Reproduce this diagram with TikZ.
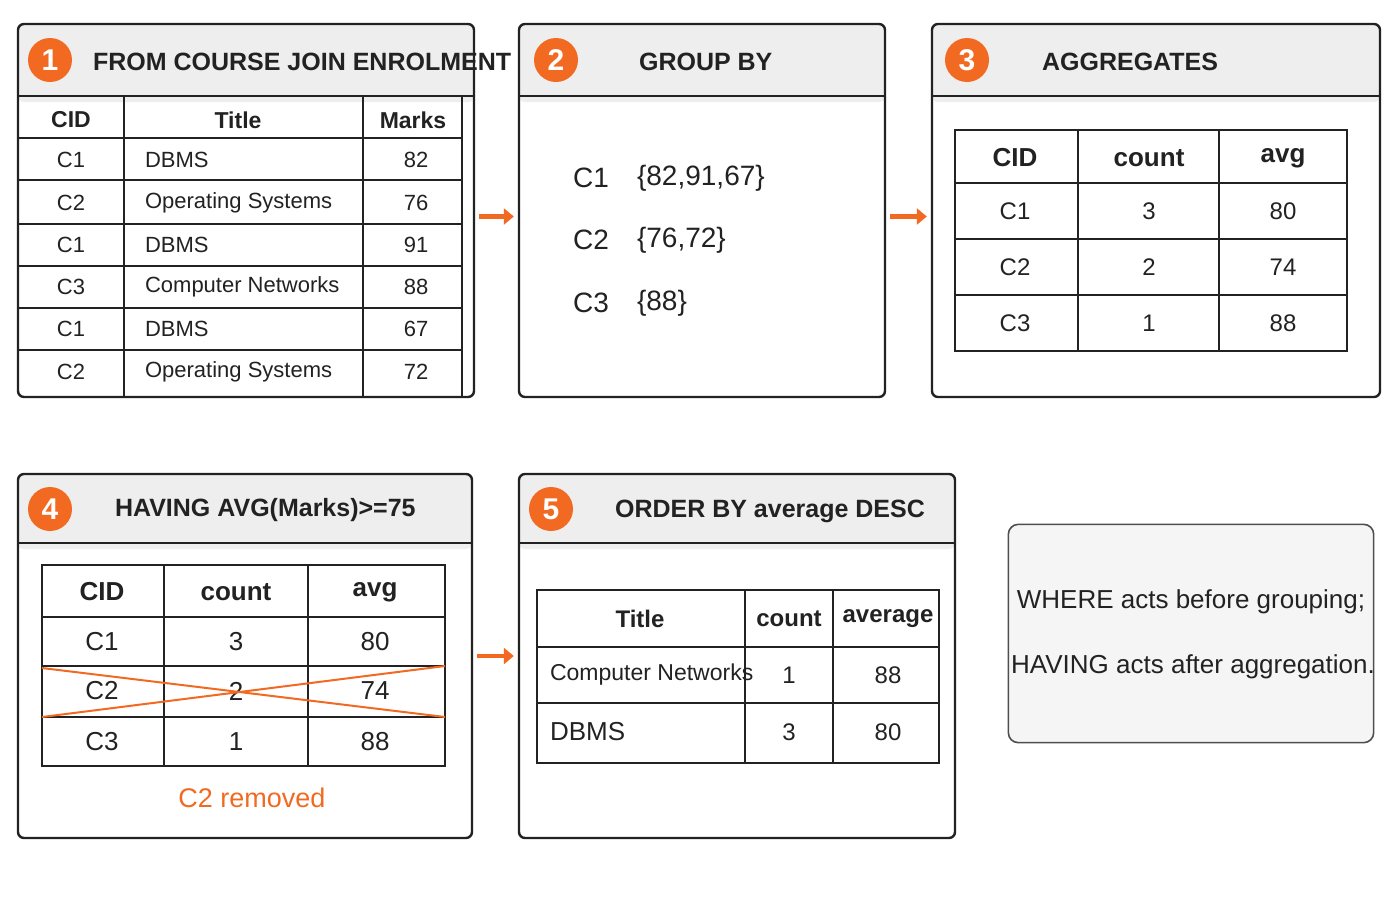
\documentclass[tikz,border=0pt]{standalone}
\usepackage{fontspec}
\setmainfont{Liberation Sans}
\usetikzlibrary{fit,arrows.meta}
\definecolor{org}{HTML}{F26A21}
\definecolor{hdr}{HTML}{EEEEEE}
\definecolor{ink}{HTML}{222222}
\tikzset{
 panel/.style={draw=ink,line width=1.2pt,rounded corners=3pt,inner sep=0pt},
 badge/.style={circle,fill=org,text=white,font=\bfseries\fontsize{15}{15}\selectfont,minimum size=22pt,inner sep=0pt},
 ttl/.style={font=\bfseries\fontsize{12.5}{14}\selectfont,text=ink,anchor=west},
 cell/.style={font=\fontsize{11}{13}\selectfont,text=ink},
 hcell/.style={font=\bfseries\fontsize{11.5}{13}\selectfont,text=ink},
 grid/.style={draw=ink,line width=0.8pt},
 arr/.style={draw=org,line width=2.2pt,-{Triangle[length=5pt,width=8pt]},shorten <=2pt,shorten >=2pt}
}
\newcommand{\header}[4]{% x1 y1 x2 ybottom
 \fill[hdr,rounded corners=3pt] (#1,#2) rectangle (#3,#4+6);
 \fill[hdr] (#1+1,#4-6) rectangle (#3-1,#4);
 \draw[ink,line width=1pt] (#1,#4) -- (#3,#4);}
\begin{document}
\begin{tikzpicture}[x=0.5pt,y=-0.5pt]
\useasboundingbox (0,0) rectangle (1400,900);
\fill[white] (0,0) rectangle (1400,900);
% ---------- panel 1
\header{18}{24}{474}{96}
\node[panel,fit={(18,24)(474,397)}] (p1) {};
\node[badge] (b1) at (50,60) {1};
\node[ttl] (t1) at (86,62) {FROM COURSE JOIN ENROLMENT};
\draw[grid] (124,96)--(124,397) (363,96)--(363,397) (462,96)--(462,397);
\foreach \y in {138,180,224,266,308,350} \draw[grid] (18,\y)--(462,\y);
\node[hcell] (h11) at (71,120) {CID};
\node[hcell] (h12) at (238,120) {Title};
\node[hcell] (h13) at (413,120) {Marks};
\foreach \c/\t/\m/\y [count=\i] in {C1/DBMS/82/160,C2/Operating Systems/76/203,C1/DBMS/91/245,C3/Computer Networks/88/287,C1/DBMS/67/329,C2/Operating Systems/72/372}{
 \node[cell] (r1a\i) at (71,\y) {\c};
 \node[cell,anchor=west] (r1b\i) at (138,\y) {\t};
 \node[cell] (r1c\i) at (416,\y) {\m};}
% ---------- panel 2
\header{519}{24}{885}{96}
\node[panel,fit={(519,24)(885,397)}] (p2) {};
\node[badge] (b2) at (556,60) {2};
\node[ttl] (t2) at (632,62) {GROUP BY};
\foreach \c/\s/\y [count=\i] in {C1/{\{82,91,67\}}/178,C2/{\{76,72\}}/240,C3/{\{88\}}/303}{
 \node[cell,font=\fontsize{14}{16}\selectfont] (g\i) at (591,\y) {\c};
 \node[cell,font=\fontsize{14}{16}\selectfont,anchor=west] (s\i) at (630,\y) {\s};}
% ---------- panel 3
\header{932}{24}{1380}{96}
\node[panel,fit={(932,24)(1380,397)}] (p3) {};
\node[badge] (b3) at (967,60) {3};
\node[ttl] (t3) at (1035,62) {AGGREGATES};
\draw[grid] (955,130) rectangle (1347,351);
\draw[grid] (1078,130)--(1078,351) (1219,130)--(1219,351);
\foreach \y in {183,239,295} \draw[grid] (955,\y)--(1347,\y);
\node[hcell,font=\bfseries\fontsize{13}{15}\selectfont] (h31) at (1015,158) {CID};
\node[hcell,font=\bfseries\fontsize{13}{15}\selectfont] (h32) at (1149,158) {count};
\node[hcell,font=\bfseries\fontsize{13}{15}\selectfont] (h33) at (1283,158) {avg};
\foreach \c/\n/\a/\y [count=\i] in {C1/3/80/211,C2/2/74/267,C3/1/88/323}{
 \node[cell,font=\fontsize{12}{14}\selectfont] (r3a\i) at (1015,\y) {\c};
 \node[cell,font=\fontsize{12}{14}\selectfont] (r3b\i) at (1149,\y) {\n};
 \node[cell,font=\fontsize{12}{14}\selectfont] (r3c\i) at (1283,\y) {\a};}
% ---------- panel 4
\header{18}{474}{472}{543}
\node[panel,fit={(18,474)(472,838)}] (p4) {};
\node[badge] (b4) at (50,509) {4};
\node[ttl] (t4) at (108,510) {HAVING AVG(Marks)>=75};
\draw[grid] (42,565) rectangle (445,766);
\draw[grid] (164,565)--(164,766) (308,565)--(308,766);
\foreach \y in {617,666,717} \draw[grid] (42,\y)--(445,\y);
\node[hcell,font=\bfseries\fontsize{13}{15}\selectfont] (h41) at (102,592) {CID};
\node[hcell,font=\bfseries\fontsize{13}{15}\selectfont] (h42) at (236,592) {count};
\node[hcell,font=\bfseries\fontsize{13}{15}\selectfont] (h43) at (375,592) {avg};
\foreach \c/\n/\a/\y [count=\i] in {C1/3/80/642,C2/2/74/691,C3/1/88/742}{
 \node[cell,font=\fontsize{13}{15}\selectfont] (r4a\i) at (102,\y) {\c};
 \node[cell,font=\fontsize{13}{15}\selectfont] (r4b\i) at (236,\y) {\n};
 \node[cell,font=\fontsize{13}{15}\selectfont] (r4c\i) at (375,\y) {\a};}
\draw[org,line width=1pt] (42,668)--(445,717) (42,717)--(445,666);
\node[font=\fontsize{13.5}{15}\selectfont,text=org] (rm) at (252,798) {C2 removed};
% ---------- panel 5
\header{519}{474}{955}{543}
\node[panel,fit={(519,474)(955,838)}] (p5) {};
\node[badge] (b5) at (551,509) {5};
\node[ttl] (t5) at (608,511) {ORDER BY average DESC};
\draw[grid] (537,590) rectangle (939,763);
\draw[grid] (745,590)--(745,763) (833,590)--(833,763);
\foreach \y in {647,703} \draw[grid] (537,\y)--(939,\y);
\node[hcell,font=\bfseries\fontsize{12}{14}\selectfont] (h51) at (640,619) {Title};
\node[hcell,font=\bfseries\fontsize{12}{14}\selectfont] (h52) at (789,619) {count};
\node[hcell,font=\bfseries\fontsize{12}{14}\selectfont] (h53) at (888,619) {average};
\node[cell,anchor=west,font=\fontsize{11.5}{14}\selectfont] (r5a1) at (543,675) {Computer Networks};
\node[cell,font=\fontsize{12}{14}\selectfont] (r5b1) at (789,675) {1};
\node[cell,font=\fontsize{12}{14}\selectfont] (r5c1) at (888,675) {88};
\node[cell,anchor=west,font=\fontsize{13}{15}\selectfont] (r5a2) at (543,732) {DBMS};
\node[cell,font=\fontsize{12}{14}\selectfont] (r5b2) at (789,732) {3};
\node[cell,font=\fontsize{12}{14}\selectfont] (r5c2) at (888,732) {80};
% ---------- note
\node[draw=ink!80,line width=0.8pt,fill=hdr!60,rounded corners=5pt,fit={(1015,531)(1367,736)}] (note) {};
\node[cell,font=\fontsize{13}{15}\selectfont] (n1) at (1191,602) {WHERE acts before grouping;};
\node[cell,font=\fontsize{13}{15}\selectfont] (n2) at (1193,667) {HAVING acts after aggregation.};
% ---------- arrows
\draw[arr] ([yshift=-3pt]p1.east) -- ([yshift=-3pt]p2.west);
\draw[arr] ([yshift=-3pt]p2.east) -- ([yshift=-3pt]p3.west);
\draw[arr] (p4.east) -- (p5.west);
\end{tikzpicture}
\end{document}
